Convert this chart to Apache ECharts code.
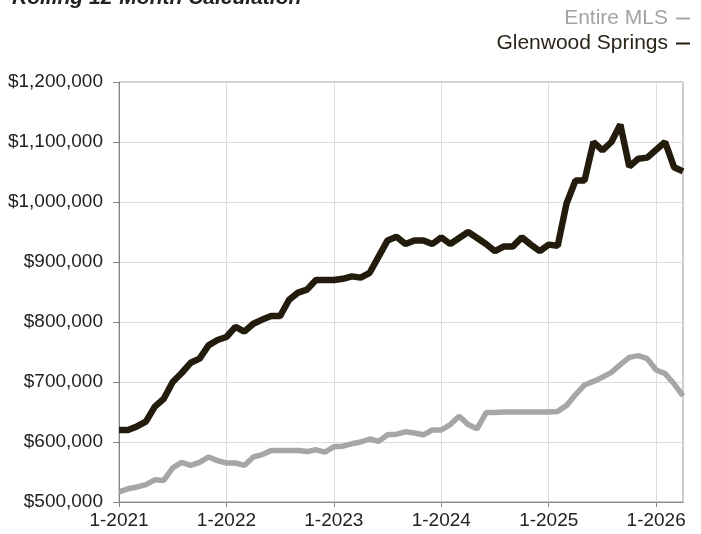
<!DOCTYPE html>
<html lang="en">

	<head>
		<meta charset="UTF-8">
		<title>Rolling 12-Month Calculation</title>
		<style>
			* {
				margin: 0;
				padding: 0;
			}

			html,
			body {
				width: 100%;
				height: 100%;
				background: #fff;
			}

			#chart {
				width: 701px;
				height: 534px;
			}
		</style>
	</head>

	<body>
		<div id="chart"></div>
		<script src="https://cdn.jsdelivr.net/npm/echarts@6/dist/echarts.min.js"></script>
		<script>
			var font = '"Liberation Sans", Arial, Helvetica, sans-serif'

			// months 1-2021 .. 4-2026
			var years = [2021, 2022, 2023, 2024, 2025, 2026]
			var months = []
			years.forEach(function(y) {
				for (var m = 1; m <= 12; m++) {
					if (y === 2026 && m > 4) break
					months.push(m + '-' + y)
				}
			})

			var seriesNames = ['Entire MLS', 'Glenwood Springs']

			var entireMls = [
				517000, 522000, 525000, 529000, 537000, 536000, 557000, 566000, 561000, 566000, 575000, 569000,
				565000, 565000, 561000, 575000, 579000, 586000, 586000, 586000, 586000, 584000, 587000, 583000,
				592000, 593000, 597000, 600000, 605000, 601000, 612000, 613000, 617000, 615000, 612000, 620000,
				620000, 629000, 643000, 629000, 622000, 649000, 649000, 650000, 650000, 650000, 650000, 650000,
				650000, 651000, 661000, 679000, 695000, 701000, 708000, 716000, 729000, 741000, 744000, 739000,
				720000, 714000, 697000, 677000
			]

			var glenwood = [
				620000, 620000, 626000, 634000, 659000, 672000, 700000, 715000, 732000, 739000, 761000, 770000,
				775000, 792000, 784000, 797000, 804000, 810000, 810000, 837000, 849000, 854000, 870000, 870000,
				870000, 872000, 876000, 874000, 882000, 909000, 936000, 942000, 930000, 936000, 936000, 930000,
				941000, 930000, 940000, 950000, 940000, 930000, 918000, 926000, 926000, 941000, 929000, 918000,
				929000, 927000, 998000, 1036000, 1036000, 1100000, 1086000, 1100000, 1129000, 1059000, 1072000, 1074000,
				1087000, 1100000, 1058000, 1051000
			]

			var legendBase = {
				right: 11,
				padding: 0,
				align: 'right',
				orient: 'vertical',
				icon: 'rect',
				itemWidth: 14,
				itemHeight: 2,
				selectedMode: false
			}

			var chart = echarts.init(document.getElementById('chart'))
			chart.setOption({
				animation: false,
				textStyle: {
					fontFamily: font
				},
				title: {
					text: 'Rolling 12-Month Calculation',
					left: 7,
					top: -17,
					textStyle: {
						fontFamily: font,
						fontSize: 21,
						fontStyle: 'italic',
						fontWeight: 'bold',
						color: '#222'
					}
				},
				legend: [
					Object.assign({}, legendBase, {
						data: [seriesNames[0]],
						top: 8,
						textStyle: { fontFamily: font, fontSize: 21, color: '#a3a3a3', padding: [0, 3, 0, 0] }
					}),
					Object.assign({}, legendBase, {
						data: [seriesNames[1]],
						top: 33,
						textStyle: { fontFamily: font, fontSize: 21, color: '#2a2418', padding: [0, 3, 0, 0] }
					})
				],
				grid: {
					left: 119,
					right: 18,
					top: 82,
					bottom: 32,
					show: true,
					borderColor: '#9a9a9a',
					borderWidth: 1
				},
				xAxis: {
					type: 'category',
					data: months,
					boundaryGap: false,
					axisLine: { lineStyle: { color: '#888' } },
					axisTick: { interval: 11, length: 5, lineStyle: { color: '#888' } },
					axisLabel: {
						interval: 11,
						margin: 9,
						fontSize: 19,
						color: '#222',
						fontFamily: font
					},
					splitLine: { show: true, interval: 11, lineStyle: { color: '#dcdcdc' } }
				},
				yAxis: {
					type: 'value',
					min: 500000,
					max: 1200000,
					interval: 100000,
					axisLine: { show: true, lineStyle: { color: '#888' } },
					axisTick: { show: true, length: 6, lineStyle: { color: '#888' } },
					axisLabel: {
						margin: 16,
						fontSize: 19,
						color: '#222',
						fontFamily: font,
						formatter: function(v) {
							return '$' + v.toLocaleString('en-US')
						}
					},
					splitLine: { lineStyle: { color: '#dcdcdc' } }
				},
				series: [{
						name: seriesNames[0],
						type: 'line',
						data: entireMls,
						color: '#a6a6a6',
						symbol: 'none',
						lineStyle: { width: 5.5, color: '#a6a6a6' }
					},
					{
						name: seriesNames[1],
						type: 'line',
						data: glenwood,
						color: '#231b0b',
						symbol: 'none',
						lineStyle: { width: 6.5, color: '#231b0b' }
					}
				]
			})

			window.onresize = function() {
				chart.resize()
			}
		</script>
	</body>

</html>
